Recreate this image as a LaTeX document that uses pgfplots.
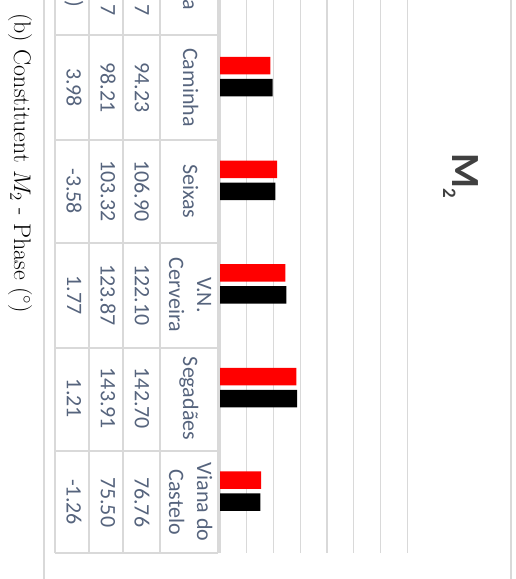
\documentclass[border=0pt]{standalone}
\usepackage{pgfplots}
\pgfplotsset{compat=1.18}
\usepackage{pgfplotstable}
\usepackage{fix-cm}
\usepackage{fontspec}
\newfontfamily\carlito{Carlito}
\definecolor{gridgray}{HTML}{D9D9D9}
\definecolor{celltext}{HTML}{56647D}
\definecolor{titlegray}{HTML}{404040}

% M2 phase (degrees): reference, model, difference
\pgfplotstableread{
pos ref model diff
0 94.23 98.21 3.98
1 106.90 103.32 -3.58
2 122.10 123.87 1.77
3 142.70 143.91 1.21
4 76.76 75.50 -1.26
}\phase

\begin{document}
\begin{tikzpicture}
\useasboundingbox (0,0) rectangle (516pt,-579pt);
\clip (0,0) rectangle (516pt,-579pt);
% chart frame
\draw[gridgray, line width=1.5pt] (44pt,0) -- (44pt,-579pt);
\draw[gridgray, line width=1.5pt] (511pt,0) -- (511pt,-579pt);
% data table grid
\foreach \x in {55,89,123,160,218} \draw[gridgray, line width=1.4pt] (\x pt,0) -- (\x pt,-553pt);
\foreach \y in {35,140,243,348,451,553} \draw[gridgray, line width=1.4pt] (55pt,-\y pt) -- (218pt,-\y pt);

\begin{axis}[
  at={(220pt,-553pt)}, anchor=south west,
  scale only axis, width=187.3pt, height=553pt,
  xbar, bar width=17.5pt,
  xmin=0, xmax=350, ymin=-0.845, ymax=4.49, y dir=reverse,
  xtick={0,50,...,350}, xticklabels={}, ytick=\empty,
  xmajorgrids, major grid style={gridgray, line width=1.4pt},
  axis line style={draw=none}, tick style={draw=none},
]
\addplot[fill=red, draw=none, bar shift=22pt] table[x=ref, y=pos]{\phase};
\addplot[fill=black, draw=none, bar shift=0pt] table[x=model, y=pos]{\phase};
\end{axis}

\tikzset{cell/.style={rotate=-90, inner sep=0, font=\carlito\fontsize{22}{26}\selectfont, text=celltext}}
% table values
\foreach \i in {0,...,4} {
  \pgfmathsetmacro\yc{87.5+103.65*\i}
  \pgfplotstablegetelem{\i}{ref}\of\phase \let\vr\pgfplotsretval
  \node[cell] at (142pt,-\yc pt) {\vr};
  \pgfplotstablegetelem{\i}{model}\of\phase \let\vm\pgfplotsretval
  \node[cell] at (108pt,-\yc pt) {\vm};
  \pgfplotstablegetelem{\i}{diff}\of\phase \let\vd\pgfplotsretval
  \node[cell] at (74pt,-\yc pt) {\vd};
}
% category names
\tikzset{cat/.style={cell, anchor=base}}
\node[cat] at (183pt,-87.5pt) {Caminha};
\node[cat] at (183pt,-191.2pt) {Seixas};
\node[cat] at (197pt,-294.8pt) {V.N.};
\node[cat] at (169pt,-294.8pt) {Cerveira};
\node[cat] at (183pt,-398.5pt) {Segadães};
\node[cat] at (197pt,-502.1pt) {Viana do};
\node[cat] at (169pt,-502.1pt) {Castelo};
% row headers (beyond the left edge)
\node[cat, anchor=base east] at (183pt,-10pt) {a};
\node[cell, anchor=east] at (142pt,-16pt) {7};
\node[cell, anchor=east] at (108pt,-16pt) {7};
\node[cell, anchor=east] at (74pt,-7pt) {)};

% chart title
\node[rotate=-90, anchor=base west, inner sep=0, text=titlegray, font=\carlito\bfseries\fontsize{40}{40}\selectfont] at (452pt,-153pt) {M\raisebox{-9pt}{\fontsize{19}{19}\selectfont 2}};

% caption
\node[rotate=-90, anchor=base west, inner sep=0, font=\fontsize{24}{28}\selectfont] at (14pt,-13pt) {(b) Constituent $M_2$ - Phase (${}^\circ$)};
\end{tikzpicture}
\end{document}
